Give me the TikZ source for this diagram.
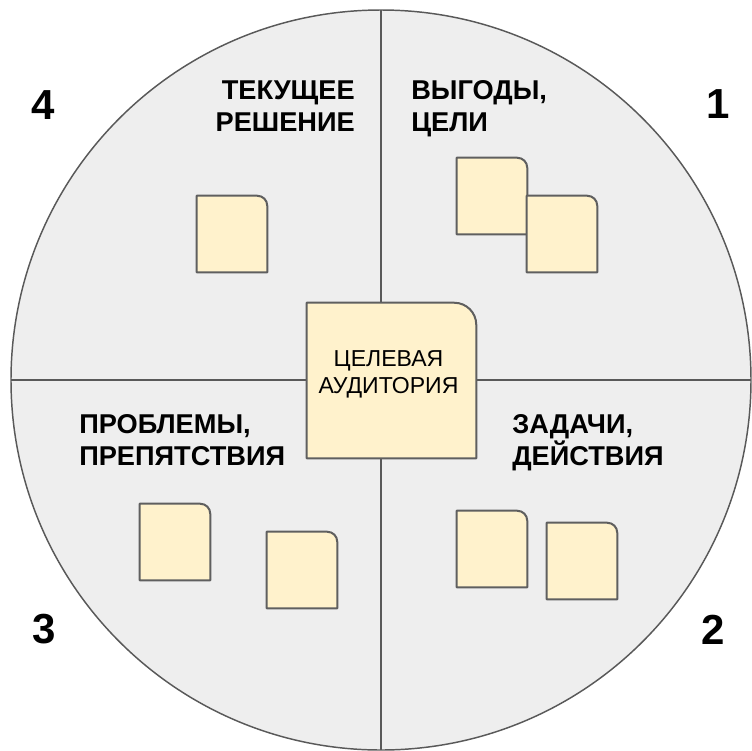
\documentclass[tikz,border=0pt]{standalone}
\usepackage{fontspec}
\setmainfont{Liberation Sans}
\definecolor{quadfill}{HTML}{EEEEEE}
\definecolor{quadline}{HTML}{595959}
\definecolor{notefill}{HTML}{FFF2CC}
\definecolor{noteline}{HTML}{5F5F5F}

\begin{document}
\begin{tikzpicture}[x=0.75pt,y=-0.75pt,
  note/.style={inner sep=0pt, minimum width=52.5pt, minimum height=57pt,
    append after command={\pgfextra{
      \filldraw[fill=notefill, draw=noteline, line width=1.5pt, line join=round]
        (\tikzlastnode.south west) -- (\tikzlastnode.north west)
        -- ([xshift=-#1]\tikzlastnode.north east)
        arc[start angle=90, end angle=0, radius=#1]
        -- (\tikzlastnode.south east) -- cycle;}}},
  note/.default=7.5pt,
  bignote/.style={note=16.5pt, minimum width=126.75pt, minimum height=116.25pt},
  quadlabel/.style={inner sep=0pt, font=\bfseries\fontsize{20.4}{24}\selectfont},
  quadnum/.style={inner sep=0pt, font=\bfseries\fontsize{31.5}{36}\selectfont},
  audtext/.style={inner sep=0pt, align=center, font=\fontsize{17.3}{20.5}\selectfont}]
\useasboundingbox (0,0) rectangle (751,751);

% circle and quadrants
\draw [draw=quadline, fill=quadfill, line width=1.1pt] (381,380) circle [radius=370];
\draw [draw=quadline, line width=1.3pt] (381,10) -- (381,750);
\draw [draw=quadline, line width=1.3pt] (11,380) -- (751,380);

% stickers
\node [note] (gain1) at (492,196) {};
\node [note] (gain2) at (562,234) {};
\node [note] (cur1) at (232,234) {};
\node [note] (prob1) at (175,542) {};
\node [note] (prob2) at (302,570) {};
\node [note] (task1) at (492,549) {};
\node [note] (task2) at (582,561) {};
\node [bignote] (aud) at (391.5,380.5) {};
\node [audtext] (audtxt) at (388.5,374.5) {ЦЕЛЕВАЯ\\АУДИТОРИЯ};

% quadrant titles
\node [quadlabel, anchor=north east, align=right] (curtxt) at (355,80.5) {ТЕКУЩЕЕ\\РЕШЕНИЕ};
\node [quadlabel, anchor=north west, align=left] (gaintxt) at (411,80.5) {ВЫГОДЫ,\\ЦЕЛИ};
\node [quadlabel, anchor=north west, align=left] (probtxt) at (79,414) {ПРОБЛЕМЫ,\\ПРЕПЯТСТВИЯ};
\node [quadlabel, anchor=north west, align=left] (tasktxt) at (512,414) {ЗАДАЧИ,\\ДЕЙСТВИЯ};

% numbers
\node [quadnum] (num1) at (718,104) {1};
\node [quadnum] (num2) at (713,630) {2};
\node [quadnum] (num3) at (44,629) {3};
\node [quadnum] (num4) at (43.5,105) {4};

\end{tikzpicture}
\end{document}
